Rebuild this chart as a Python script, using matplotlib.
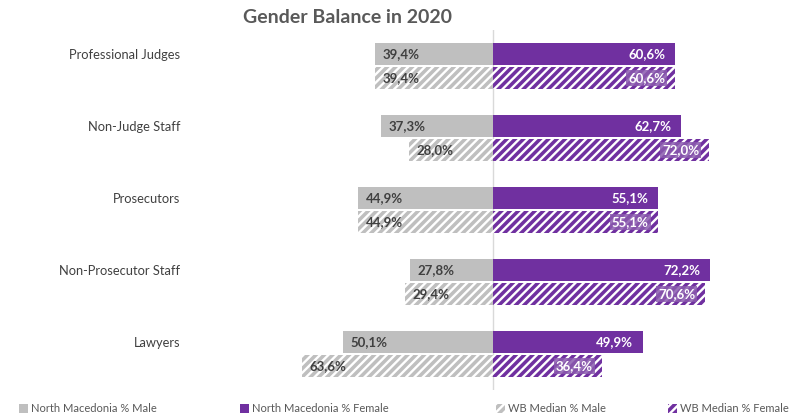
import numpy as np
import matplotlib
matplotlib.use("Agg")
import matplotlib.pyplot as plt
from matplotlib.patches import Patch

plt.rcParams['font.family'] = ['Lato', 'DejaVu Sans']
plt.rcParams['hatch.linewidth'] = 1.7

categories = ['Professional Judges', 'Non-Judge Staff', 'Prosecutors',
              'Non-Prosecutor Staff', 'Lawyers']
nm_male = [39.4, 37.3, 44.9, 27.8, 50.1]
nm_female = [60.6, 62.7, 55.1, 72.2, 49.9]
wb_male = [39.4, 28.0, 44.9, 29.4, 63.6]
wb_female = [60.6, 72.0, 55.1, 70.6, 36.4]

GREY = '#bfbfbf'
PURPLE = '#7030a0'
TXT = '#595959'

fig = plt.figure(figsize=(7.9, 4.2), dpi=100)
ax = fig.add_axes([193 / 790, 0.0714, 594 / 790, 0.857])

y = np.arange(len(categories))
h = 0.305
off = 0.167

ax.barh(y - off, [-v for v in nm_male], height=h, color=GREY)
ax.barh(y - off, nm_female, height=h, color=PURPLE)
ax.barh(y + off, [-v for v in wb_male], height=h, color=GREY,
        edgecolor='white', linewidth=0, hatch='////')
ax.barh(y + off, wb_female, height=h, color=PURPLE,
        edgecolor='white', linewidth=0, hatch='////')

ax.axvline(0, color='#d9d9d9', lw=1, zorder=0)


def fmt(v):
    return '{:.1f}%'.format(v).replace('.', ',')


for i in range(len(categories)):
    ax.text(-nm_male[i] + 2.6, y[i] - off, fmt(nm_male[i]), ha='left', va='center',
            fontsize=9.5, fontweight='bold', color='#404040')
    ax.text(nm_female[i] - 3.2, y[i] - off, fmt(nm_female[i]), ha='right', va='center',
            fontsize=9.5, fontweight='bold', color='white')
    ax.text(-wb_male[i] + 2.6, y[i] + off, fmt(wb_male[i]), ha='left', va='center',
            fontsize=9.5, fontweight='bold', color='#404040')
    ax.text(wb_female[i] - 3.2, y[i] + off, fmt(wb_female[i]), ha='right', va='center',
            fontsize=9.5, fontweight='bold', color='white',
            bbox=dict(boxstyle='square,pad=0.15', fc='#8a5aae', ec='none', alpha=0.85))

ax.set_xlim(-100, 98)
ax.set_ylim(len(categories) - 0.5, -0.5)
ax.set_yticks(y - off)
ax.set_yticklabels(categories, fontsize=9.3, color='#404040')
ax.tick_params(axis='y', length=0, pad=9)
ax.set_xticks([])
for s in ax.spines.values():
    s.set_visible(False)

fig.text(0.44, 0.958, 'Gender Balance in 2020', ha='center', va='center',
         fontsize=14, fontweight='bold', color=TXT)

# legend entries placed one by one along the bottom
handles = [Patch(facecolor=GREY, edgecolor='none'),
           Patch(facecolor=PURPLE, edgecolor='none'),
           Patch(facecolor=GREY, edgecolor='white', linewidth=0, hatch='////'),
           Patch(facecolor=PURPLE, edgecolor='white', linewidth=0, hatch='////')]
labels = ['North Macedonia % Male', 'North Macedonia % Female',
          'WB Median % Male', 'WB Median % Female']
xs = [19, 240, 496, 668]
for hd, lb, x in zip(handles, labels, xs):
    fig.legend([hd], [lb], loc='center left', bbox_to_anchor=(x / 790, 0.027),
               frameon=False, fontsize=8, handlelength=0.8, handleheight=0.8,
               handletextpad=0.3, borderpad=0, borderaxespad=0, labelcolor=TXT)

fig.savefig('out.png', dpi=100)
